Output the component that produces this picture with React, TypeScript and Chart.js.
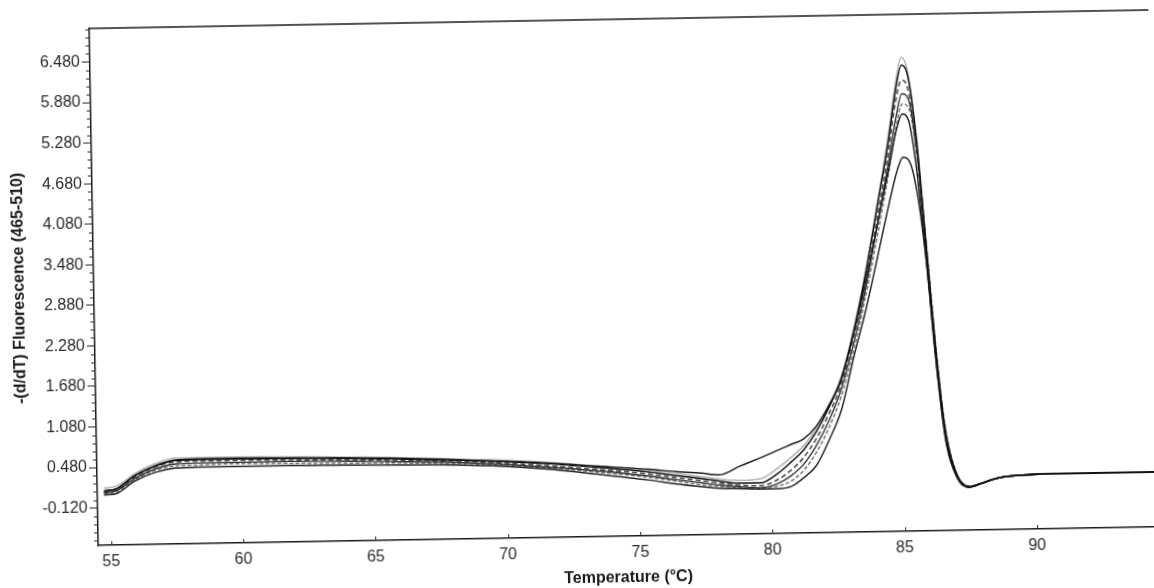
import React, { useEffect, useRef } from "react";
import { Chart, registerables } from "chart.js";

Chart.register(...registerables);

// Temperatures (°C) sampled along the melt curves
const temperatures = [
  54.77, 55.25, 55.94, 56.71, 57.49, 58.37, 59.83, 61.77, 63.72, 65.67, 67.61, 69.56,
  71.51, 73.45, 75.4, 76.37, 77.34, 78.02, 78.8, 79.58, 80.26, 80.75, 81.24, 81.72,
  82.21, 82.7, 83.18, 83.67, 84.16, 84.64, 84.94, 85.18, 85.42, 85.71, 86.0, 86.29,
  86.59, 86.98, 87.47, 87.95, 88.54, 89.51, 90.97, 92.92, 94.55,
];

// -(d/dT) Fluorescence (465-510) for each sample
const sample1 = [
  0.17, 0.2, 0.38, 0.52, 0.6, 0.6, 0.6, 0.59, 0.57, 0.55, 0.52, 0.49, 0.44, 0.37, 0.3, 0.24, 0.19, 0.15,
  0.12, 0.14, 0.3, 0.45, 0.62, 0.88, 1.22, 1.62,
  2.3, 3.15, 4.15, 5.2, 5.95, 6.34, 6.1, 5.0, 3.45, 1.9, 0.72, 0.13, -0.04, 0.02, 0.09, 0.13, 0.14, 0.14, 0.14,
];
const sample2 = [
  0.13, 0.16, 0.35, 0.49, 0.57, 0.58, 0.58, 0.57, 0.56, 0.54, 0.51, 0.47, 0.42, 0.35, 0.27, 0.21, 0.16, 0.12,
  0.08, 0.08, 0.22, 0.38, 0.56, 0.82, 1.17, 1.6,
  2.25, 3.1, 4.1, 5.1, 5.85, 6.22, 6.05, 5.1, 3.55, 2.0, 0.8, 0.16, -0.03, 0.02, 0.09, 0.13, 0.14, 0.14, 0.14,
];
const sample3 = [
  0.11, 0.14, 0.33, 0.47, 0.54, 0.55, 0.55, 0.54, 0.53, 0.51, 0.49, 0.45, 0.39, 0.32, 0.24, 0.18, 0.13, 0.09,
  0.05, 0.04, 0.13, 0.26, 0.45, 0.72, 1.08, 1.52,
  2.2, 3.0, 3.95, 4.95, 5.7, 6.0, 5.85, 4.9, 3.4, 1.9, 0.75, 0.15, -0.04, 0.02, 0.09, 0.13, 0.14, 0.14, 0.14,
];
const sample4 = [
  0.1, 0.13, 0.31, 0.44, 0.51, 0.52, 0.52, 0.52, 0.51, 0.49, 0.47, 0.43, 0.37, 0.3, 0.21, 0.15, 0.1, 0.06,
  0.03, 0.01, 0.07, 0.18, 0.35, 0.62, 0.98, 1.45,
  2.1, 2.9, 3.85, 4.8, 5.45, 5.8, 5.72, 4.95, 3.55, 2.05, 0.85, 0.18, -0.03, 0.02, 0.09, 0.13, 0.14, 0.14, 0.14,
];
const sample5 = [
  0.09, 0.11, 0.29, 0.42, 0.48, 0.49, 0.5, 0.49, 0.48, 0.47, 0.45, 0.42, 0.36, 0.28, 0.19, 0.13, 0.07, 0.04,
  0.01, 0.0, 0.03, 0.1, 0.26, 0.52, 0.88, 1.35,
  2.0, 2.8, 3.7, 4.65, 5.3, 5.65, 5.6, 4.9, 3.6, 2.1, 0.9, 0.2, -0.02, 0.02, 0.09, 0.13, 0.14, 0.14, 0.14,
];
const sample6 = [
  0.13, 0.16, 0.35, 0.48, 0.56, 0.57, 0.57, 0.56, 0.55, 0.53, 0.5, 0.47, 0.43, 0.37, 0.31, 0.27, 0.24, 0.21,
  0.33, 0.45, 0.56, 0.64, 0.72, 0.9, 1.2, 1.58,
  2.25, 3.0, 3.85, 4.7, 5.25, 5.5, 5.4, 4.6, 3.3, 1.85, 0.72, 0.14, -0.04, 0.02, 0.09, 0.13, 0.14, 0.14, 0.14,
];
const sample7 = [
  0.07, 0.09, 0.27, 0.39, 0.45, 0.46, 0.46, 0.46, 0.45, 0.44, 0.43, 0.4, 0.34, 0.25, 0.15, 0.09, 0.04, 0.01,
  0.0, -0.01, -0.01, 0.02, 0.15, 0.33, 0.7, 1.15,
  1.9, 2.6, 3.4, 4.2, 4.65, 4.86, 4.8, 4.3, 3.3, 1.95, 0.82, 0.18, -0.03, 0.02, 0.09, 0.13, 0.14, 0.14, 0.14,
];

const yTickValues = [-0.12, 0.48, 1.08, 1.68, 2.28, 2.88, 3.48, 4.08, 4.68, 5.28, 5.88, 6.48];
const xTickValues = [55, 60, 65, 70, 75, 80, 85, 90];
const xTitle = "Temperature (°C)";
const yTitle = "-(d/dT) Fluorescence (465-510)";

const seriesList = [
  { name: "Sample 2", values: sample2, color: "#111111", width: 1.5, dash: [] as number[] },
  { name: "Sample 6", values: sample6, color: "#1a1a1a", width: 1.4, dash: [] as number[] },
  { name: "Sample 7", values: sample7, color: "#262626", width: 1.5, dash: [] as number[] },
  { name: "Sample 4", values: sample4, color: "#333333", width: 1.4, dash: [] as number[] },
  { name: "Sample 3", values: sample3, color: "#4d4d4d", width: 1.6, dash: [5, 3] },
  { name: "Sample 5", values: sample5, color: "#777777", width: 1.5, dash: [4, 2] },
  { name: "Sample 1", values: sample1, color: "#b5b5b5", width: 1.6, dash: [] as number[] },
];

const FONT = "'Liberation Sans', Arial, sans-serif";

const framePlugin = {
  id: "frameExtras",
  afterDraw(chart: any) {
    const { ctx, chartArea, scales } = chart;
    const xs = scales.x;
    const ys = scales.y;
    ctx.save();
    ctx.strokeStyle = "#1a1a1a";
    ctx.lineWidth = 1.5;
    ctx.beginPath();
    ctx.moveTo(chartArea.left, chartArea.top);
    ctx.lineTo(chartArea.right, chartArea.top);
    ctx.stroke();
    ctx.lineWidth = 1;
    ctx.strokeStyle = "#2a2a2a";
    ctx.beginPath();
    // minor ticks on the y axis (every 0.12)
    for (let i = -4; i <= 60; i++) {
      if (i % 5 === 0) continue;
      const v = -0.12 + 0.12 * i;
      if (v < ys.min || v > ys.max) continue;
      const py = Math.round(ys.getPixelForValue(v)) + 0.5;
      ctx.moveTo(chartArea.left - 4, py);
      ctx.lineTo(chartArea.left, py);
    }
    // inward tick marks on the x axis
    for (const t of xTickValues) {
      const px = Math.round(xs.getPixelForValue(t)) + 0.5;
      ctx.moveTo(px, chartArea.bottom);
      ctx.lineTo(px, chartArea.bottom - 4);
    }
    ctx.stroke();
    ctx.restore();
  },
};

export default function App() {
  const canvasRef = useRef<HTMLCanvasElement | null>(null);

  useEffect(() => {
    if (!canvasRef.current) return;
    const chart = new Chart(canvasRef.current, {
      type: "line",
      data: {
        datasets: seriesList.map((s) => ({
          label: s.name,
          data: temperatures.map((t, i) => ({ x: t, y: s.values[i] })),
          borderColor: s.color,
          borderWidth: s.width,
          borderDash: s.dash,
          pointRadius: 0,
          fill: false,
          cubicInterpolationMode: "monotone" as const,
        })),
      },
      options: {
        animation: false,
        responsive: true,
        maintainAspectRatio: false,
        layout: { padding: { top: 20, left: 0, right: 0, bottom: 0 } },
        plugins: {
          legend: { display: false },
          tooltip: { enabled: false },
        },
        scales: {
          x: {
            type: "linear",
            min: 54.52,
            max: 94.55,
            afterBuildTicks: (scale: any) => {
              scale.ticks = xTickValues.map((v) => ({ value: v }));
            },
            afterFit: (scale: any) => {
              scale.height = 51;
            },
            ticks: {
              callback: (v: any) => String(v),
              font: { family: FONT, size: 16 },
              color: "#2a2a2a",
              padding: 7,
              maxRotation: 0,
              autoSkip: false,
            },
            grid: { display: false, drawTicks: false },
            border: { display: true, color: "#1a1a1a", width: 1.5 },
            title: {
              display: true,
              text: xTitle,
              font: { family: FONT, size: 16, weight: "bold" },
              color: "#1a1a1a",
              padding: { top: 0, bottom: 0 },
            },
          },
          y: {
            type: "linear",
            min: -0.673,
            max: 6.976,
            afterBuildTicks: (scale: any) => {
              scale.ticks = yTickValues.map((v) => ({ value: v }));
            },
            afterFit: (scale: any) => {
              scale.width = 94;
            },
            ticks: {
              callback: (v: any) => Number(v).toFixed(3),
              font: { family: FONT, size: 16 },
              color: "#2a2a2a",
              padding: 2,
              autoSkip: false,
            },
            grid: {
              display: true,
              drawOnChartArea: false,
              drawTicks: true,
              tickLength: 8,
              color: "#2a2a2a",
              lineWidth: 1,
            },
            border: { display: true, color: "#1a1a1a", width: 1.5 },
            title: {
              display: true,
              text: yTitle,
              font: { family: FONT, size: 16, weight: "bold" },
              color: "#1a1a1a",
              padding: { top: 10, bottom: 0 },
            },
          },
        },
      },
      plugins: [framePlugin],
    });
    return () => chart.destroy();
  }, []);

  return (
    <div
      style={{
        position: "fixed",
        left: 0,
        top: 0,
        width: 1154,
        height: 588,
        background: "#ffffff",
        transform: "rotate(-1deg)",
        transformOrigin: "50% 50%",
      }}
    >
      <canvas ref={canvasRef} style={{ width: "100%", height: "100%" }} />
    </div>
  );
}
